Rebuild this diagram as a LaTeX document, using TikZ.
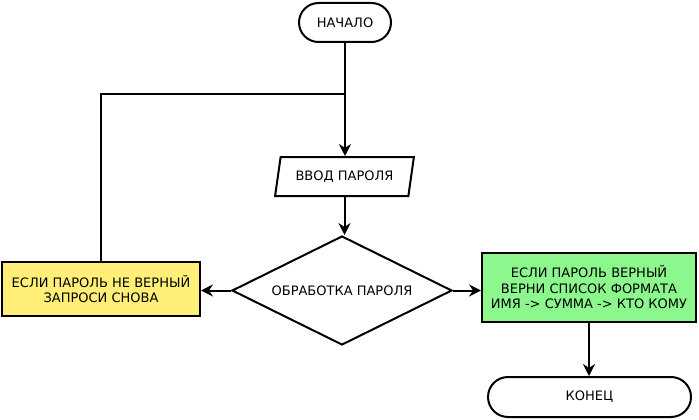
\documentclass[tikz,border=0pt]{standalone}
\usepackage{fontspec}
\setmainfont{DejaVu Sans}
\usetikzlibrary{arrows.meta,shapes.geometric,shapes.misc}
\definecolor{yel}{HTML}{FFEF78}
\definecolor{grn}{HTML}{8CF78C}
\begin{document}
\begin{tikzpicture}[x=1pt,y=-1pt,
  every node/.style={font=\fontsize{13}{15.5}\selectfont, line width=2pt, draw, align=center, inner sep=0pt},
  term/.style={rounded rectangle, minimum width=#1, minimum height=39pt},
  box/.style={rectangle, minimum width=#1},
  conn/.style={line width=2pt, -{Stealth[length=12pt,width=12pt,inset=4pt]}},
  plain/.style={line width=2pt}]
\useasboundingbox (0,0) rectangle (699,420);
\node[term=92pt] (start) at (345,22.5) {НАЧАЛО};
\node[trapezium, trapezium left angle=70, trapezium right angle=110, minimum width=139pt, minimum height=39pt, trapezium stretches=true] (input) at (344.5,176.5) {ВВОД ПАРОЛЯ};
\node[diamond, minimum width=220pt, minimum height=109pt, shape aspect=2] (proc) at (342,290.5) {ОБРАБОТКА ПАРОЛЯ};
\node[box=198pt, minimum height=54pt, fill=yel] (bad) at (101,289) {ЕСЛИ ПАРОЛЬ НЕ ВЕРНЫЙ\\ЗАПРОСИ СНОВА};
\node[box=214pt, minimum height=69pt, fill=grn] (good) at (589,287.5) {ЕСЛИ ПАРОЛЬ ВЕРНЫЙ\\ВЕРНИ СПИСОК ФОРМАТА\\ИМЯ -> СУММА -> КТО КОМУ};
\node[term=203pt, minimum height=40pt] (end) at (589.5,397) {КОНЕЦ};
\coordinate (j) at (344.5,94);
\draw[conn] (start.south) -- (start.south |- input.north);
\draw[plain] (bad.north) |- (j);
\draw[conn] (input.south) -- (input.south |- proc.north);
\draw[conn] (proc.west) -- (proc.west -| bad.east);
\draw[conn] (proc.east) -- (proc.east -| good.west);
\draw[conn] (good.south) -- (good.south |- end.north);
\end{tikzpicture}
\end{document}
